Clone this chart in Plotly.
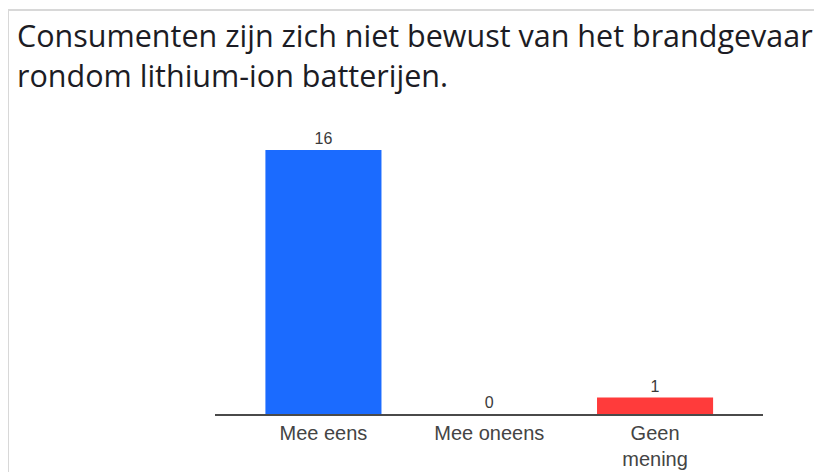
import plotly.graph_objects as go

# survey answers
categories = ["Mee eens", "Mee oneens", "Geen<br>mening"]
counts = [16, 0, 1]
bar_colors = ["#1b6bff", "#1b6bff", "#ff3b3b"]

# the page body adds an 8px margin, so the figure is drawn 8px smaller
# and every target pixel position is shifted by -8
OFF = 8
W, H = 822 - OFF, 472 - OFF
left, right, top, bottom = 215 - OFF, 59, 120 - OFF, 58
plot_w = W - left - right
plot_h = H - top - bottom


def px_x(x):
    return (x - OFF - left) / plot_w


def px_y(y):
    return (H - bottom - (y - OFF)) / plot_h


fig = go.Figure(
    go.Bar(
        x=categories,
        y=counts,
        marker=dict(color=bar_colors, line=dict(width=0)),
        text=counts,
        textposition="outside",
        cliponaxis=False,
        textfont=dict(family="Liberation Sans, Arial", size=16, color="#3a3a3a"),
        hoverinfo="x+y",
    )
)

fig.update_layout(
    width=W,
    height=H,
    margin=dict(l=left, r=right, t=top, b=bottom),
    plot_bgcolor="white",
    paper_bgcolor="white",
    showlegend=False,
    bargap=0.3,
    title=dict(
        text="Consumenten zijn zich niet bewust van het brandgevaar<br>rondom lithium-ion batterijen.",
        x=(17 - OFF) / W,
        xanchor="left",
        xref="container",
        y=1 - 39 / H,
        yanchor="top",
        yref="container",
        font=dict(family="Open Sans", size=30.5, color="#1c1c24"),
    ),
    # thin grey frame around the card
    shapes=[
        dict(type="line", xref="paper", yref="paper",
             x0=px_x(7), x1=px_x(830), y0=px_y(10), y1=px_y(10),
             line=dict(color="#d8d8d8", width=2)),
        dict(type="line", xref="paper", yref="paper",
             x0=px_x(8), x1=px_x(8), y0=px_y(10), y1=px_y(480),
             line=dict(color="#d8d8d8", width=2)),
    ],
)

fig.update_xaxes(
    range=[-0.654, 2.651],
    showline=True,
    linecolor="#4a4a4a",
    linewidth=2,
    ticks="",
    showgrid=False,
    automargin=False,
    tickfont=dict(family="Liberation Sans, Arial", size=20, color="#444444"),
)
fig.update_yaxes(
    range=[0, plot_h / 16.5],
    visible=False,
    showgrid=False,
    zeroline=False,
    automargin=False,
)

fig.write_html("out.html")
